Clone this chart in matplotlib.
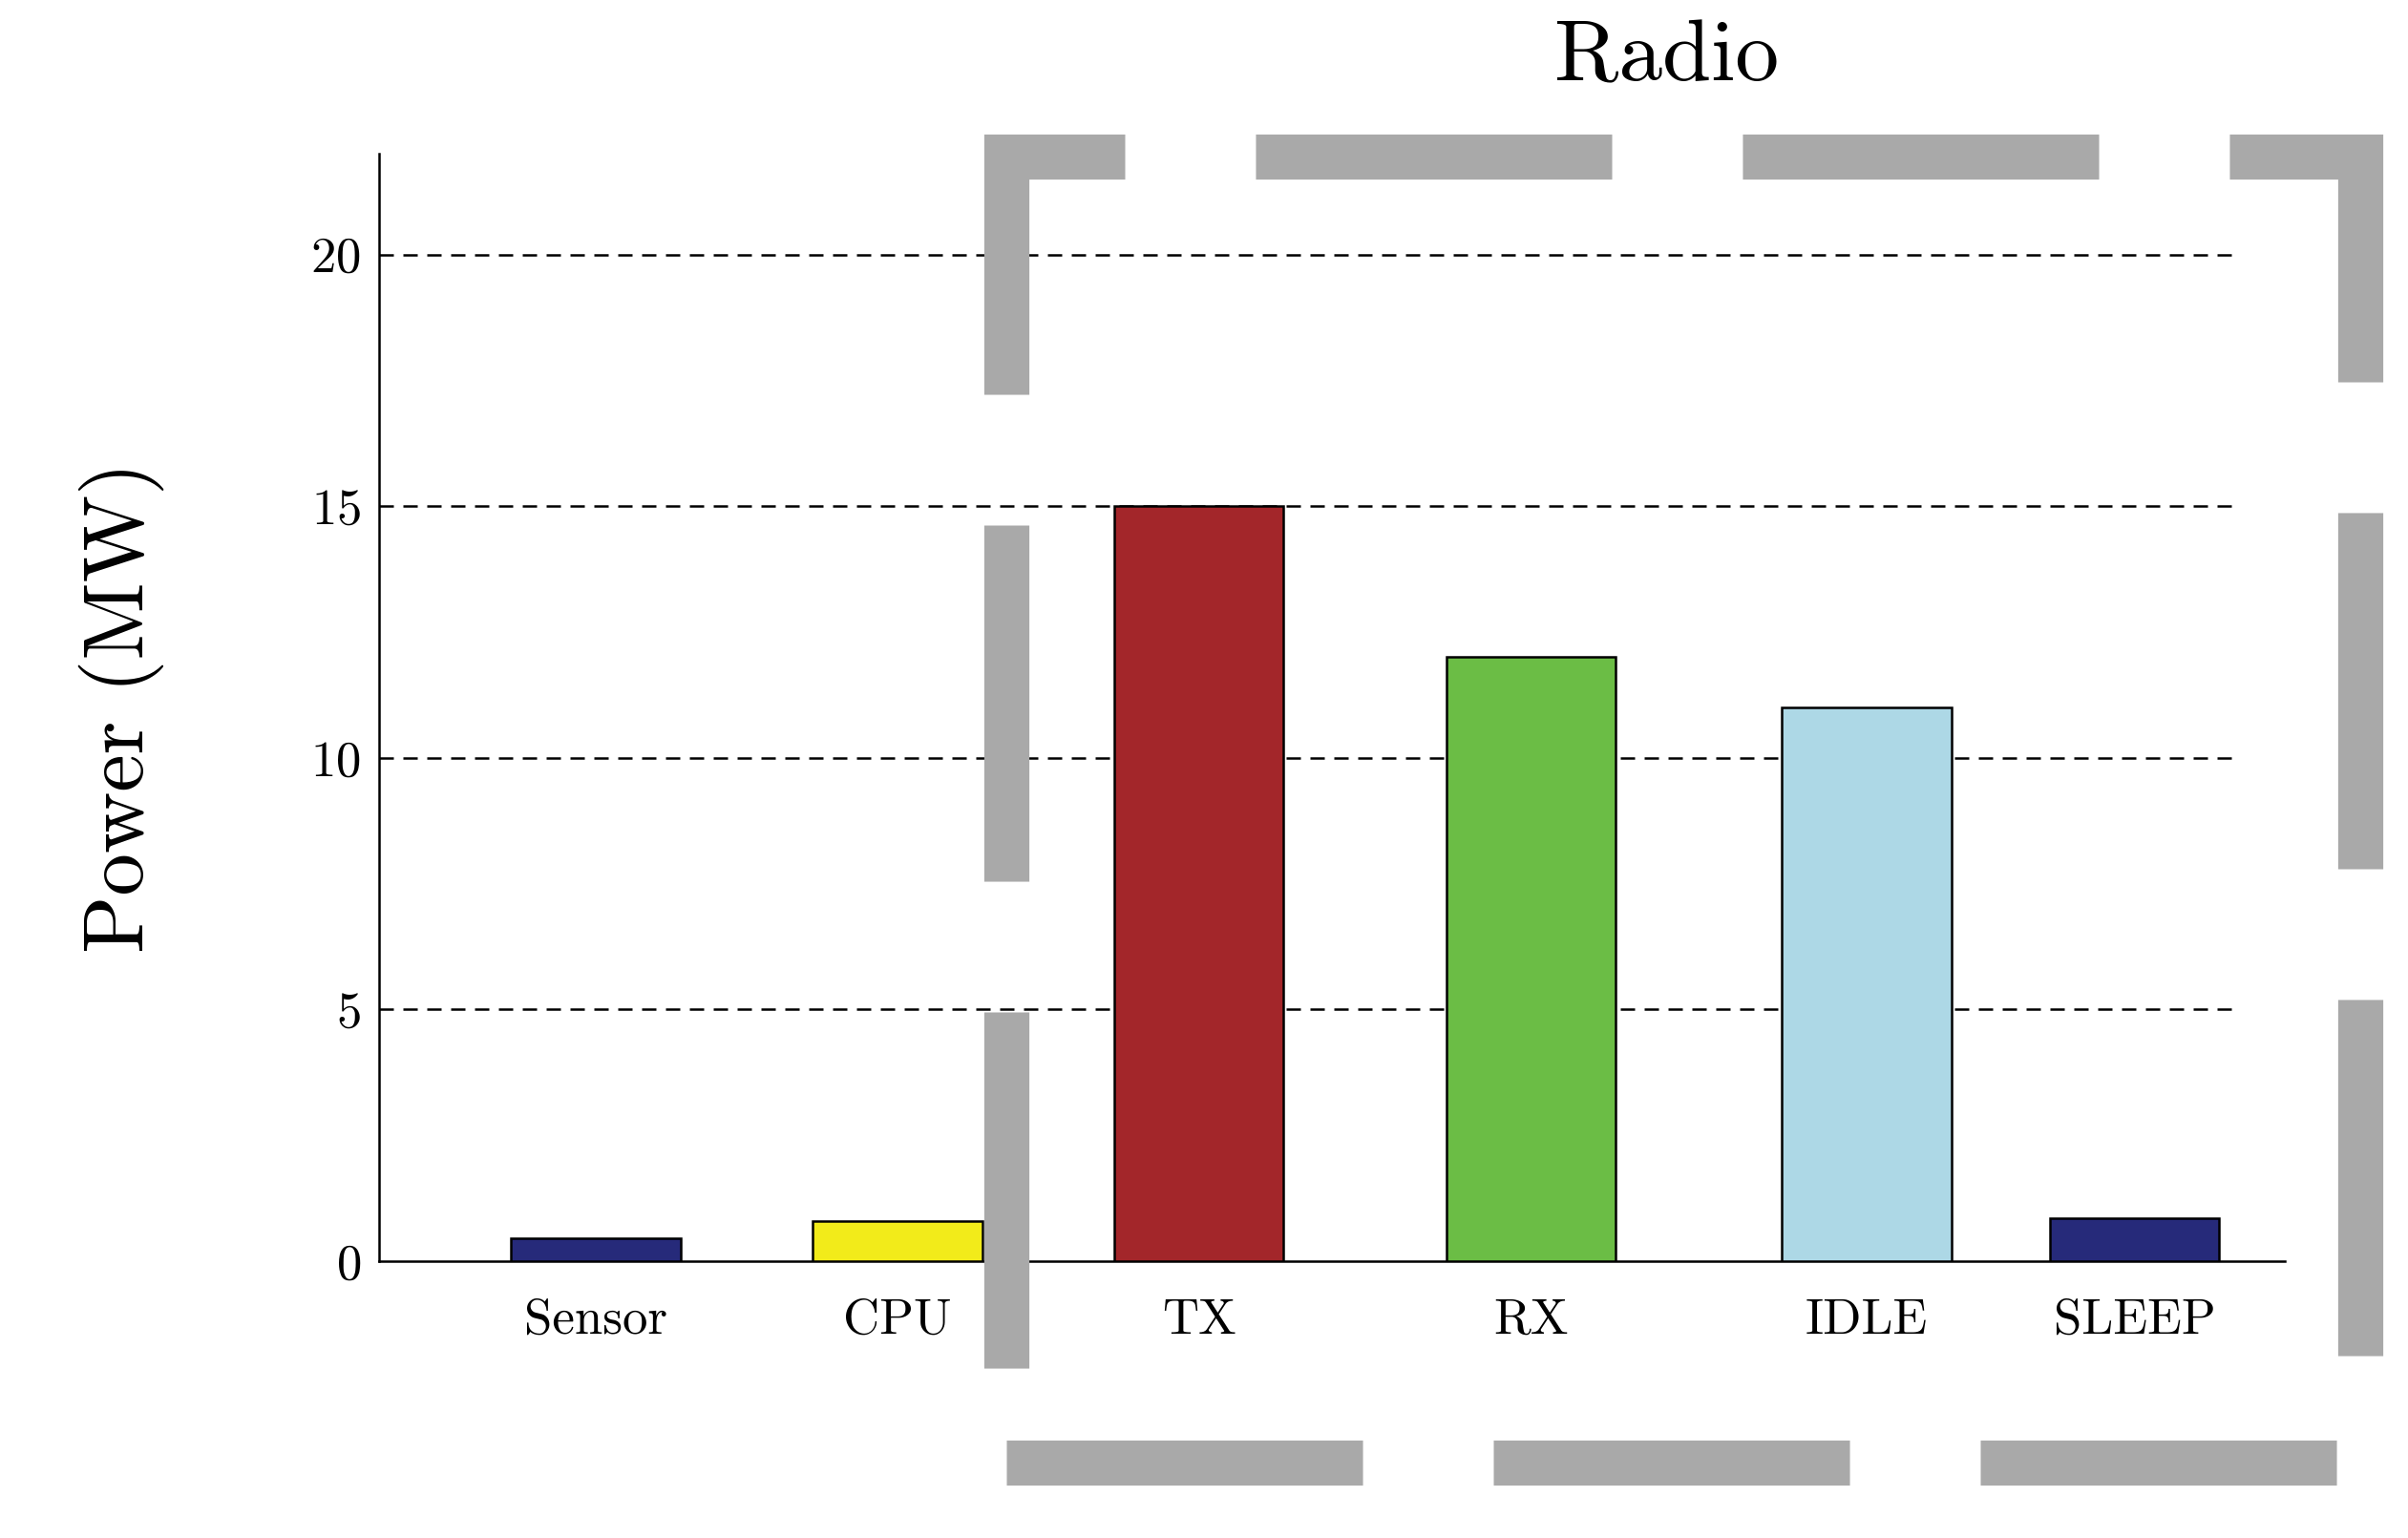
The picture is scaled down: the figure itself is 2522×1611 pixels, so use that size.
import matplotlib
matplotlib.use("Agg")
import matplotlib.pyplot as plt
from matplotlib.patches import Rectangle

plt.rcParams['font.family'] = ['cmr10', 'DejaVu Serif']
plt.rcParams['axes.formatter.use_mathtext'] = True

components = ["Sensor", "CPU", "TX", "RX", "IDLE", "SLEEP"]
power = [0.45, 0.8, 15, 12, 11, 0.85]
bar_colors = ["#262a7a", "#f2eb1a", "#a3262a", "#6bbd45", "#add8e6", "#262a7a"]
grid_levels = [5, 10, 15, 20]

# bar slots are a bit uneven in the original
slots = [0, 0.98, 1.96, 3.04, 4.13, 5.0]

fig = plt.figure(figsize=(25.22, 16.11), dpi=100)
ax = fig.add_axes([0.1575, 0.180, 0.7915, 0.720])

ax.bar(slots, power, width=0.55, color=bar_colors, edgecolor="black", linewidth=1.8, zorder=3)

for lvl in grid_levels:
    ax.axhline(lvl, xmax=0.977, color="black", linestyle=(0, (6, 4)), linewidth=1.8, zorder=1)

ax.set_xlim(-0.704, 5.49)
ax.set_ylim(0, 22)
ax.set_yticks([0] + grid_levels)
ax.set_xticks(slots)
ax.set_xticklabels(components, fontsize=38)
ax.tick_params(axis='y', labelsize=38, length=0, pad=14)
ax.tick_params(axis='x', length=0, pad=28)
ax.set_ylabel("Power (MW)", fontsize=64, labelpad=110)
for s in ["top", "right"]:
    ax.spines[s].set_visible(False)
ax.spines["left"].set_linewidth(1.8)
ax.spines["bottom"].set_linewidth(1.8)

# grey dashed box around the radio states
box = Rectangle((0.418, 0.049), 0.562, 0.849, transform=fig.transFigure,
                fill=False, edgecolor="#a9a9a9", linewidth=34, clip_on=False,
                linestyle=(0, (7.9, 2.9)), zorder=5)
fig.patches.append(box)

fig.text(0.692, 0.962, "Radio", fontsize=66, ha="center", va="center")

fig.savefig("out.png", dpi=100)
